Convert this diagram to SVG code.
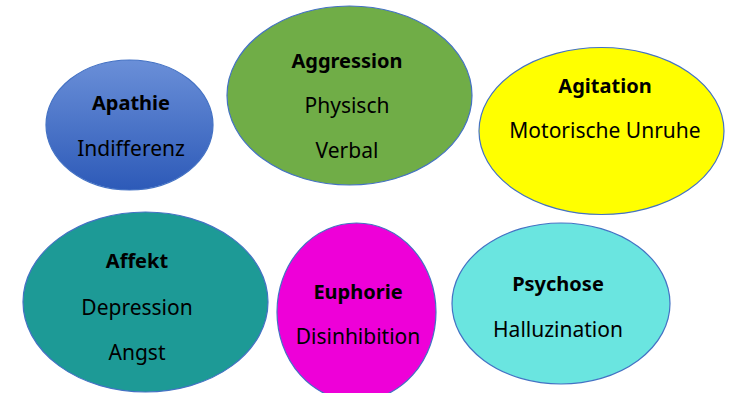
<svg xmlns="http://www.w3.org/2000/svg" width="738" height="393" viewBox="0 0 738 393">
<defs>
<linearGradient id="gBlue" x1="0" y1="0" x2="0" y2="1">
<stop offset="0" stop-color="#6a8fd8"/>
<stop offset="1" stop-color="#2d5ab8"/>
</linearGradient>
<style>
.e{stroke:#4472c4;stroke-width:1.2}
.t{font-family:"Noto Sans","Open Sans",sans-serif;font-size:21px;fill:#000;text-anchor:middle}
.b{font-weight:bold;font-size:20px}
</style>
</defs>
<rect width="738" height="393" fill="#fff"/>
<g id="apathie">
<ellipse class="e" cx="129.5" cy="125" rx="83.5" ry="65" fill="url(#gBlue)"/>
<text class="t b" x="131" y="110">Apathie</text>
<text class="t" x="131" y="156">Indifferenz</text>
</g>
<g id="aggression">
<ellipse class="e" cx="349.5" cy="95.5" rx="122.5" ry="89.5" fill="#70ad47"/>
<text class="t b" x="347" y="68">Aggression</text>
<text class="t" x="347" y="113">Physisch</text>
<text class="t" x="347" y="158">Verbal</text>
</g>
<g id="agitation">
<ellipse class="e" cx="601.5" cy="131" rx="122.5" ry="83.5" fill="#ffff00"/>
<text class="t b" x="605" y="93">Agitation</text>
<text class="t" x="605" y="138">Motorische Unruhe</text>
</g>
<g id="affekt">
<ellipse class="e" cx="145.5" cy="302" rx="122.5" ry="90" fill="#1d9a96"/>
<text class="t b" x="137" y="268">Affekt</text>
<text class="t" x="137" y="315">Depression</text>
<text class="t" x="137" y="360">Angst</text>
</g>
<g id="euphorie">
<ellipse class="e" cx="356.5" cy="312" rx="79.5" ry="89" fill="#ee00d8"/>
<text class="t b" x="358" y="299">Euphorie</text>
<text class="t" x="358" y="344">Disinhibition</text>
</g>
<g id="psychose">
<ellipse class="e" cx="561" cy="303.5" rx="109" ry="80.5" fill="#6ae5e0"/>
<text class="t b" x="558" y="291">Psychose</text>
<text class="t" x="558" y="337">Halluzination</text>
</g>
<g id="connectors"/>
</svg>
